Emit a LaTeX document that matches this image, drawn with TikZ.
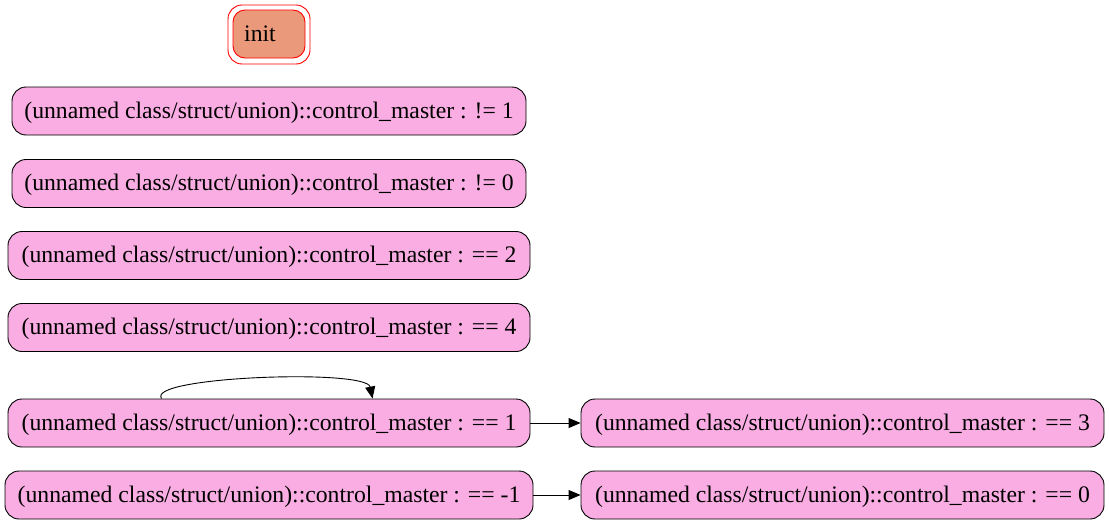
\documentclass[tikz,border=0pt]{standalone}
\usepackage{fontspec}
\setmainfont{Liberation Serif}
\usetikzlibrary{arrows.meta,calc}
\definecolor{nodepink}{HTML}{F9ADE2}
\definecolor{initfill}{HTML}{EA9A7A}
\begin{document}
\begin{tikzpicture}[x=1pt,y=-1pt,
  statebox/.style={draw=black,line width=0.9pt,fill=nodepink,rounded corners=14pt,
    minimum height=48pt,inner sep=0pt,text depth=2pt,font=\fontsize{23.7}{28}\selectfont},
  arr/.style={-{Triangle[length=12pt,width=10pt]},line width=0.9pt}]
\useasboundingbox (0,0) rectangle (1109,525);
\node[draw=red,line width=0.9pt,rounded corners=14pt,minimum width=82pt,minimum height=59pt] (initout) at (269,34.5) {};
\node[draw=red,line width=0.9pt,fill=initfill,rounded corners=12pt,minimum width=72pt,minimum height=48pt,inner sep=0pt,
  font=\fontsize{23.7}{28}\selectfont] (init) at (269,34) {\hspace{-18pt}init};
\node[statebox,minimum width=514pt] (n1) at (269,111) {(unnamed class/struct/union)::control\_master : != 1};
\node[statebox,minimum width=514pt] (n2) at (269,183.5) {(unnamed class/struct/union)::control\_master : != 0};
\node[statebox,minimum width=522pt] (n3) at (269,255.5) {(unnamed class/struct/union)::control\_master : == 2};
\node[statebox,minimum width=522pt] (n4) at (269,327.5) {(unnamed class/struct/union)::control\_master : == 4};
\node[statebox,minimum width=522pt] (n5) at (269,423) {(unnamed class/struct/union)::control\_master : == 1};
\node[statebox,minimum width=528pt] (n6) at (269,495) {(unnamed class/struct/union)::control\_master : == -1};
\node[statebox,minimum width=523pt] (n7) at (842.5,423) {(unnamed class/struct/union)::control\_master : == 3};
\node[statebox,minimum width=523pt] (n8) at (842.5,495) {(unnamed class/struct/union)::control\_master : == 0};
\draw[arr] (n5) -- (n7);
\draw[arr] (n6) -- (n8);
\draw[arr] ($(n5.north west)+(154,0)$) .. controls +(-16,-22) and +(-6,-30) .. ($(n5.north west)+(365,0)$);
\end{tikzpicture}
\end{document}
